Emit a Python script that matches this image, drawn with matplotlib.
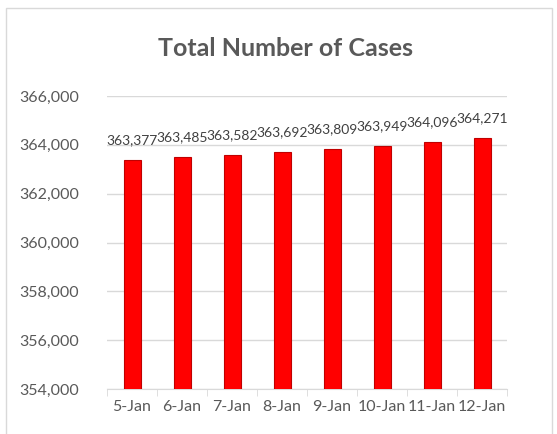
import matplotlib
matplotlib.use("Agg")
import matplotlib.pyplot as plt
from matplotlib.patches import Rectangle

categories = ["5-Jan", "6-Jan", "7-Jan", "8-Jan", "9-Jan", "10-Jan", "11-Jan", "12-Jan"]
values = [363377, 363485, 363582, 363692, 363809, 363949, 364096, 364271]

plt.rcParams['font.family'] = ['Lato', 'DejaVu Sans']
gray = '#595959'

fig = plt.figure(figsize=(5.57, 4.34), dpi=100)
fig.patches.append(Rectangle((6/557, -0.01), 546/557, 1 - 8/434 + 0.01, transform=fig.transFigure,
                             fill=False, edgecolor='#d9d9d9', linewidth=1))
ax = fig.add_axes([107/557, 1 - 389/434, 400/557, (389 - 96)/434])

x = range(len(categories))
ax.bar(x, values, width=0.34, color='#ff0000', edgecolor='#c00000', linewidth=0.8, zorder=3)
ax.set_ylim(354000, 366000)
ax.set_xlim(-0.5, len(categories) - 0.5)
ax.set_yticks(range(354000, 366001, 2000))
ax.set_yticklabels([f"{v:,}" for v in range(354000, 366001, 2000)])
ax.set_xticks(list(x))
ax.set_xticklabels(categories)
ax.yaxis.grid(True, color='#d9d9d9', linewidth=1, zorder=0)
for s in ['top', 'right', 'left']:
    ax.spines[s].set_visible(False)
ax.spines['bottom'].set_color('#d9d9d9')
ax.tick_params(axis='y', length=0, labelsize=11.5, labelcolor=gray, pad=20)
ax.tick_params(axis='x', length=0, labelsize=11.5, labelcolor=gray, pad=8)
ax.set_xticks([i - 0.5 for i in range(len(categories) + 1)], minor=True)
ax.tick_params(axis='x', which='minor', length=5, color='#d9d9d9')

for xi, v in zip(x, values):
    ax.annotate(f"{v:,}", (xi, v), xytext=(0, 10), textcoords='offset points',
                ha='center', va='bottom', fontsize=10, color='#404040')

fig.text(285/557, 1 - 48/434, "Total Number of Cases", ha='center', va='center',
         fontsize=18, fontweight='bold', color=gray)

fig.savefig("out.png", dpi=100)
